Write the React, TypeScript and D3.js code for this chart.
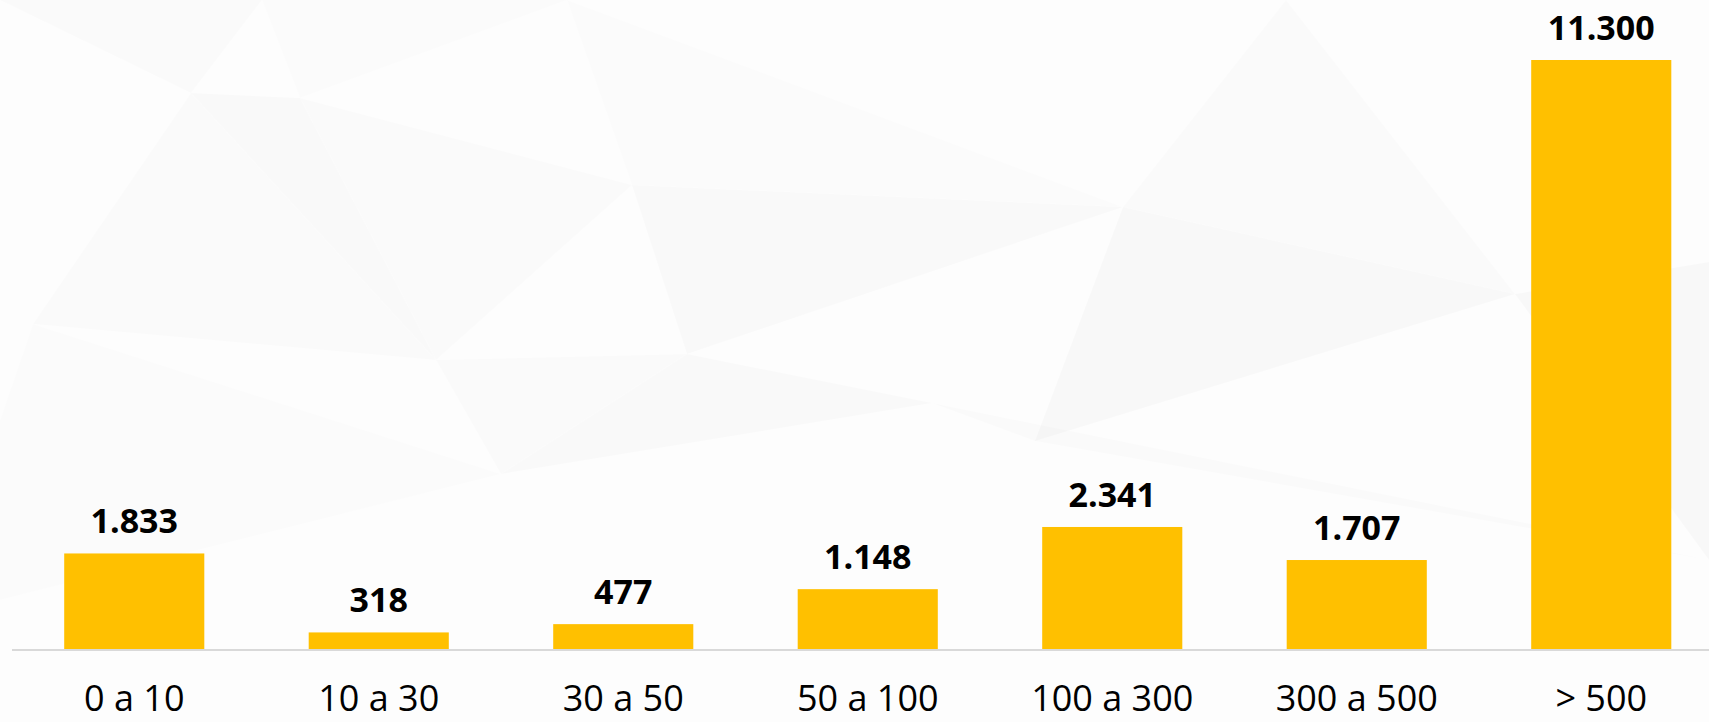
import React from 'react'
import { scaleBand, scaleLinear } from 'd3'

// size classes and counts
const categories = ['0 a 10', '10 a 30', '30 a 50', '50 a 100', '100 a 300', '300 a 500', '> 500']
const values = [1833, 318, 477, 1148, 2341, 1707, 11300]
const valueLabels = ['1.833', '318', '477', '1.148', '2.341', '1.707', '11.300']

const W = 1709
const H = 722
const baseY = 649
const font = '"Open Sans", "Noto Sans", sans-serif'

// faint low-poly background shapes (decoration only)
const bgShapes = [
  { pts: '0,0 262,0 191,93', o: 0.012 },
  { pts: '191,93 300,98 436,360', o: 0.016 },
  { pts: '300,98 632,185 436,360', o: 0.01 },
  { pts: '262,0 300,98 567,0', o: 0.006 },
  { pts: '632,185 1123,207 687,354', o: 0.016 },
  { pts: '567,0 632,185 1123,207', o: 0.008 },
  { pts: '1123,207 1515,294 1035,441', o: 0.02 },
  { pts: '1286,0 1123,207 1515,294', o: 0.01 },
  { pts: '1515,294 1709,262 1709,560', o: 0.018 },
  { pts: '33,324 436,360 191,93', o: 0.01 },
  { pts: '436,360 687,354 501,474', o: 0.012 },
  { pts: '687,354 932,403 501,474', o: 0.016 },
  { pts: '932,403 1035,441 1709,560', o: 0.01 },
  { pts: '0,420 33,324 501,474 0,600', o: 0.008 },
]

export default function App() {
  const x = scaleBand<string>()
    .domain(categories)
    .range([12, 12 + 7 * 244.5])
    .paddingInner(0.427)
    .paddingOuter(0.2135)

  const y = scaleLinear().domain([0, 11300]).range([baseY, 60])

  return (
    <svg
      width={W}
      height={H}
      style={{ position: 'absolute', left: 0, top: 0, background: '#fdfdfd' }}
    >
      <g>
        {bgShapes.map((s, i) => (
          <polygon key={i} points={s.pts} fill="#000" fillOpacity={s.o} />
        ))}
      </g>
      {categories.map((c, i) => {
        const x0 = x(c) as number
        const bw = x.bandwidth()
        return (
          <g key={c}>
            <rect x={x0} y={y(values[i])} width={bw} height={baseY - y(values[i])} fill="#FFC000" />
            <text
              x={x0 + bw / 2}
              y={y(values[i]) - 20}
              textAnchor="middle"
              fontFamily={font}
              fontWeight="bold"
              fontSize={34}
              fill="#000"
            >
              {valueLabels[i]}
            </text>
            <text
              x={x0 + bw / 2}
              y={711}
              textAnchor="middle"
              fontFamily={font}
              fontSize={36}
              fill="#000"
            >
              {c}
            </text>
          </g>
        )
      })}
      <line x1={12} x2={W} y1={baseY + 1} y2={baseY + 1} stroke="#d9d9d9" strokeWidth={2} />
    </svg>
  )
}
